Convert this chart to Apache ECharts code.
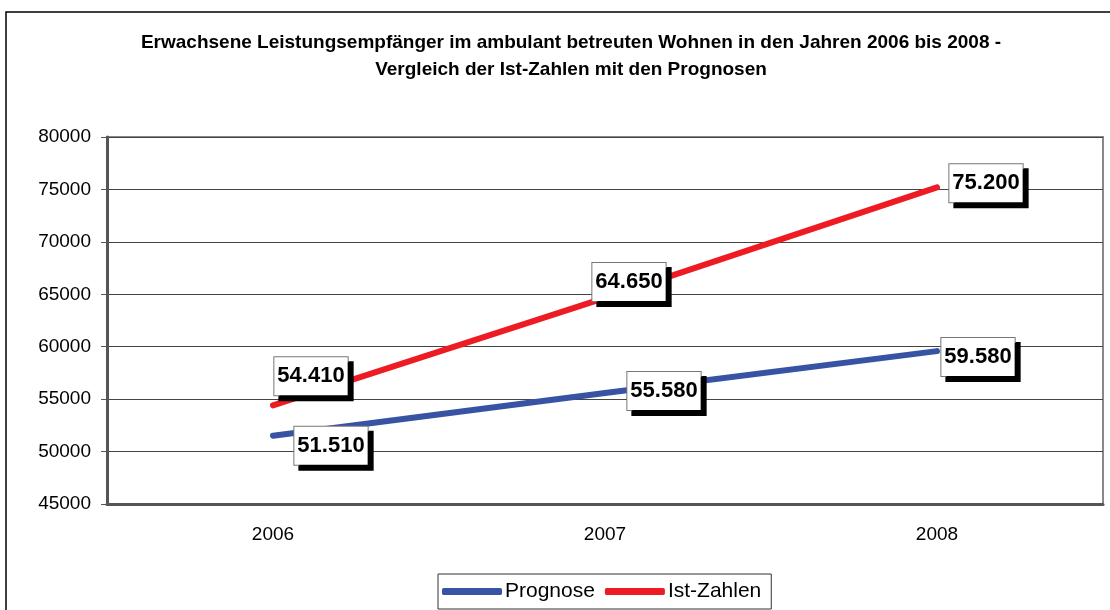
<!DOCTYPE html>
<html>
<head>
<meta charset="utf-8">
<script src="https://cdn.jsdelivr.net/npm/echarts@6/dist/echarts.min.js"></script>
<style>
  html, body { margin: 0; padding: 0; background: #fff; }
  #chart { width: 1110px; height: 610px; }
</style>
</head>
<body>
<div id="chart"></div>
<script>
var years = ['2006', '2007', '2008'];
var prognose = [51510, 55580, 59580];
var istZahlen = [54410, 64650, 75200];

// Verschiebung der Beschriftungskästen gegenüber dem Punkt
var progOffsets = [[58, 10], [59, -2], [41, 6]];
var istOffsets = [[38, -29], [24, -16], [49, -4]];

function fmt(v) {
    return String(v).replace(/\B(?=(\d{3})+(?!\d))/g, '.');
}

var labelStyle = {
    show: true,
    position: 'inside',
    formatter: function (p) { return fmt(p.value); },
    fontFamily: 'Liberation Sans, Arial, sans-serif',
    fontSize: 22,
    fontWeight: 'bold',
    color: '#000',
    lineHeight: 22,
    backgroundColor: '#fff',
    borderColor: '#777',
    borderWidth: 1,
    padding: [8, 3, 8, 3],
    shadowColor: '#000',
    shadowOffsetX: 5,
    shadowOffsetY: 5,
    shadowBlur: 0
};

function buildData(values, offsets) {
    return values.map(function (v, i) {
        return { value: v, label: { offset: offsets[i] } };
    });
}

var myChart = echarts.init(document.getElementById('chart'));

var option = {
    backgroundColor: '#fff',
    animation: false,
    textStyle: { fontFamily: 'Liberation Sans, Arial, sans-serif' },
    graphic: [{
        type: 'rect',
        shape: { x: 6, y: 12, width: 1200, height: 700 },
        style: { fill: 'none', stroke: '#000', lineWidth: 1.5 },
        silent: true
    }],
    title: {
        text: 'Erwachsene Leistungsempfänger im ambulant betreuten Wohnen in den Jahren 2006 bis 2008 -\nVergleich der Ist-Zahlen mit den Prognosen',
        left: 566,
        top: 24,
        textAlign: 'center',
        textStyle: {
            fontFamily: 'Liberation Sans, Arial, sans-serif',
            fontSize: 19,
            fontWeight: 'bold',
            color: '#000',
            lineHeight: 27
        }
    },
    legend: {
        top: 574,
        left: 438,
        data: ['Prognose', 'Ist-Zahlen'],
        icon: 'roundRect',
        itemWidth: 60,
        itemHeight: 7,
        itemGap: 10,
        borderColor: '#333',
        borderWidth: 1,
        padding: [7, 10, 7, 4],
        textStyle: { fontSize: 21, color: '#000', padding: [0, 0, 0, -2] }
    },
    grid: {
        left: 107,
        right: 7,
        top: 137,
        bottom: 106,
        show: true,
        borderColor: '#888',
        borderWidth: 2
    },
    xAxis: {
        type: 'category',
        data: years,
        boundaryGap: true,
        axisLine: { lineStyle: { color: '#555', width: 3 } },
        axisTick: { length: 6, lineStyle: { color: '#555', width: 1 } },
        axisLabel: { fontSize: 19, color: '#000', margin: 21 }
    },
    yAxis: {
        type: 'value',
        min: 45000,
        max: 80000,
        interval: 5000,
        axisLine: { show: true, lineStyle: { color: '#555', width: 3 } },
        axisTick: { show: true, length: 6, lineStyle: { color: '#555', width: 1 } },
        axisLabel: {
            fontSize: 19,
            color: '#000',
            margin: 16,
            formatter: function (v) { return String(v); }
        },
        splitLine: { lineStyle: { color: '#444', width: 1 } }
    },
    series: [{
        name: 'Prognose',
        type: 'line',
        data: buildData(prognose, progOffsets),
        symbol: 'circle',
        symbolSize: 5,
        itemStyle: { color: '#3953a4' },
        lineStyle: { color: '#3953a4', width: 6, cap: 'round' },
        label: labelStyle,
        z: 3
    }, {
        name: 'Ist-Zahlen',
        type: 'line',
        data: buildData(istZahlen, istOffsets),
        symbol: 'circle',
        symbolSize: 5,
        itemStyle: { color: '#ed1c24' },
        lineStyle: { color: '#ed1c24', width: 6, cap: 'round' },
        label: labelStyle,
        z: 3
    }]
};

myChart.setOption(option);
</script>
</body>
</html>
